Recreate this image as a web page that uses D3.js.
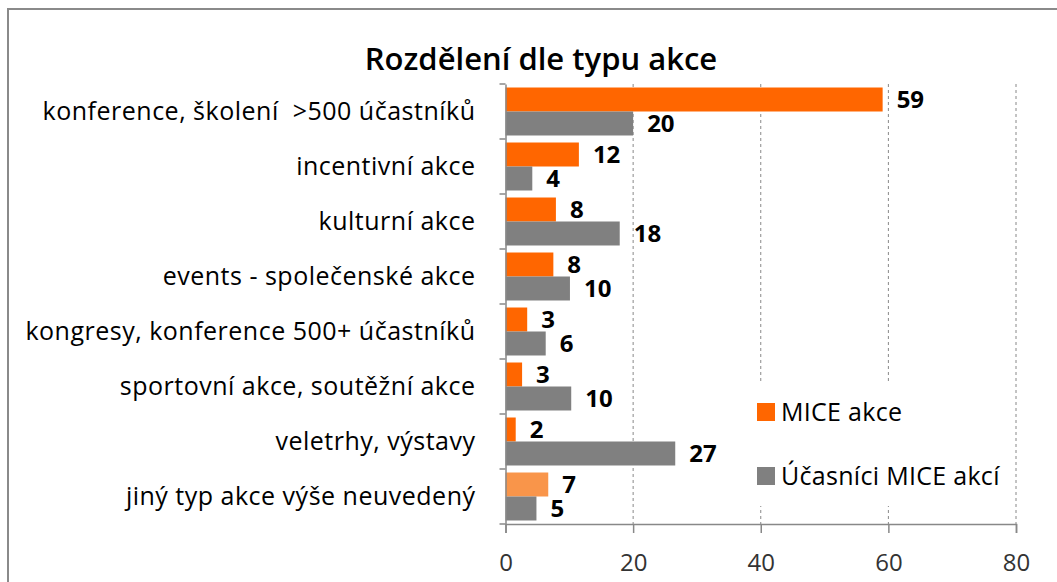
<!DOCTYPE html>
<html>
<head>
<meta charset="utf-8">
<script src="https://cdn.jsdelivr.net/npm/d3@7"></script>
<style>
  body { margin: 0; background: #fff; }
  svg { display: block; font-family: "Open Sans", "Lato", sans-serif; }
  text { white-space: pre; }
</style>
</head>
<body>
<div id="chart"></div>
<script>
// Data
const categories = [
  'konference, školení  >500 účastníků',
  'incentivní akce',
  'kulturní akce',
  'events - společenské akce',
  'kongresy, konference 500+ účastníků',
  'sportovní akce, soutěžní akce',
  'veletrhy, výstavy',
  'jiný typ akce výše neuvedený'
];
const miceValues = [59.1, 11.5, 7.9, 7.5, 3.4, 2.6, 1.6, 6.7];
const ucastValues = [20, 4.2, 17.9, 10.1, 6.3, 10.3, 26.6, 4.85];
const seriesNames = ['MICE akce', 'Účasníci MICE akcí'];
const xTicks = [0, 20, 40, 60, 80];

const width = 1057;
const height = 582;
const orange = '#ff6600';
const lightOrange = '#f9954a';
const gray = '#808080';
const axisColor = '#888888';
const font = '"Open Sans", "Lato", sans-serif';

const svg = d3.select('#chart')
  .append('svg')
  .attr('width', width)
  .attr('height', height);

// Outer chart border (only top and left are visible)
svg.append('rect')
  .attr('x', 8).attr('y', 9)
  .attr('width', 1200).attr('height', 700)
  .attr('fill', 'none')
  .attr('stroke', '#8a8a8a')
  .attr('stroke-width', 2);

// Title
svg.append('text')
  .attr('x', 541).attr('y', 70)
  .attr('text-anchor', 'middle')
  .attr('font-size', 31)
  .attr('font-weight', 600)
  .attr('fill', '#000')
  .text('Rozdělení dle typu akce');

const x = d3.scaleLinear().domain([0, 80]).range([505.5, 1016]);
const y = d3.scaleBand().domain(categories).range([84, 524]);
const sub = d3.scaleBand().domain(['mice', 'ucast'])
  .range([0, y.bandwidth()])
  .paddingOuter(0.146);

// Dashed gridlines
svg.append('g')
  .selectAll('line')
  .data(xTicks.slice(1))
  .join('line')
  .attr('x1', d => x(d)).attr('x2', d => x(d))
  .attr('y1', y.range()[0]).attr('y2', y.range()[1])
  .attr('stroke', axisColor)
  .attr('stroke-width', 1)
  .attr('stroke-dasharray', '3,3');

// Bars
const rows = categories.map((c, i) => ({ cat: c, i, mice: miceValues[i], ucast: ucastValues[i] }));

const groups = svg.append('g')
  .selectAll('g')
  .data(rows)
  .join('g')
  .attr('transform', d => `translate(0,${y(d.cat)})`);

groups.append('rect')
  .attr('x', x(0))
  .attr('y', sub('mice'))
  .attr('width', d => x(d.mice) - x(0))
  .attr('height', sub.bandwidth())
  .attr('fill', d => d.i === categories.length - 1 ? lightOrange : orange);

groups.append('rect')
  .attr('x', x(0))
  .attr('y', sub('ucast'))
  .attr('width', d => x(d.ucast) - x(0))
  .attr('height', sub.bandwidth())
  .attr('fill', gray);

// Value labels
const fmt = d3.format('.0f');
['mice', 'ucast'].forEach(key => {
  groups.append('text')
    .attr('x', d => x(d[key]) + 14)
    .attr('y', sub(key) + sub.bandwidth() / 2)
    .attr('dy', '0.36em')
    .attr('font-size', 24)
    .attr('font-weight', 'bold')
    .attr('fill', '#000')
    .text(d => fmt(d[key]));
});

// Legend (white box covers gridlines)
const legend = svg.append('g');
legend.append('rect')
  .attr('x', 745).attr('y', 381)
  .attr('width', 265).attr('height', 125)
  .attr('fill', '#fff');
const legendItems = legend.selectAll('g')
  .data(seriesNames)
  .join('g')
  .attr('transform', (d, i) => `translate(757,${403 + i * 64})`);
legendItems.append('rect')
  .attr('width', 18).attr('height', 18)
  .attr('fill', (d, i) => i === 0 ? orange : gray);
legendItems.append('text')
  .attr('x', 24).attr('y', 9)
  .attr('dy', '0.36em')
  .attr('font-size', 25)
  .attr('letter-spacing', 0.3)
  .attr('fill', '#000')
  .text(d => d);

// Left axis: labels and boundary ticks
const yAxis = svg.append('g')
  .attr('transform', `translate(${x(0)},0)`)
  .call(d3.axisLeft(y).tickSize(0).tickPadding(30));
yAxis.select('.domain').attr('stroke', axisColor).attr('stroke-width', 1.5);
yAxis.selectAll('text')
  .attr('font-size', 25)
  .attr('letter-spacing', 0.5)
  .attr('font-family', font)
  .attr('fill', '#000');

svg.append('g')
  .selectAll('line')
  .data(categories.map(c => y(c)).concat([y.range()[1]]))
  .join('line')
  .attr('x1', x(0) - 6).attr('x2', x(0))
  .attr('y1', d => d).attr('y2', d => d)
  .attr('stroke', axisColor)
  .attr('stroke-width', 1.5);

// Bottom axis
const xAxis = svg.append('g')
  .attr('transform', `translate(0,${y.range()[1]})`)
  .call(d3.axisBottom(x).tickValues(xTicks).tickSize(9).tickPadding(21));
xAxis.select('.domain').attr('stroke', axisColor).attr('stroke-width', 1.5);
xAxis.selectAll('line').attr('stroke', axisColor).attr('stroke-width', 1.5);
xAxis.selectAll('text')
  .attr('font-size', 24)
  .attr('font-family', font)
  .attr('fill', '#333');
</script>
</body>
</html>
